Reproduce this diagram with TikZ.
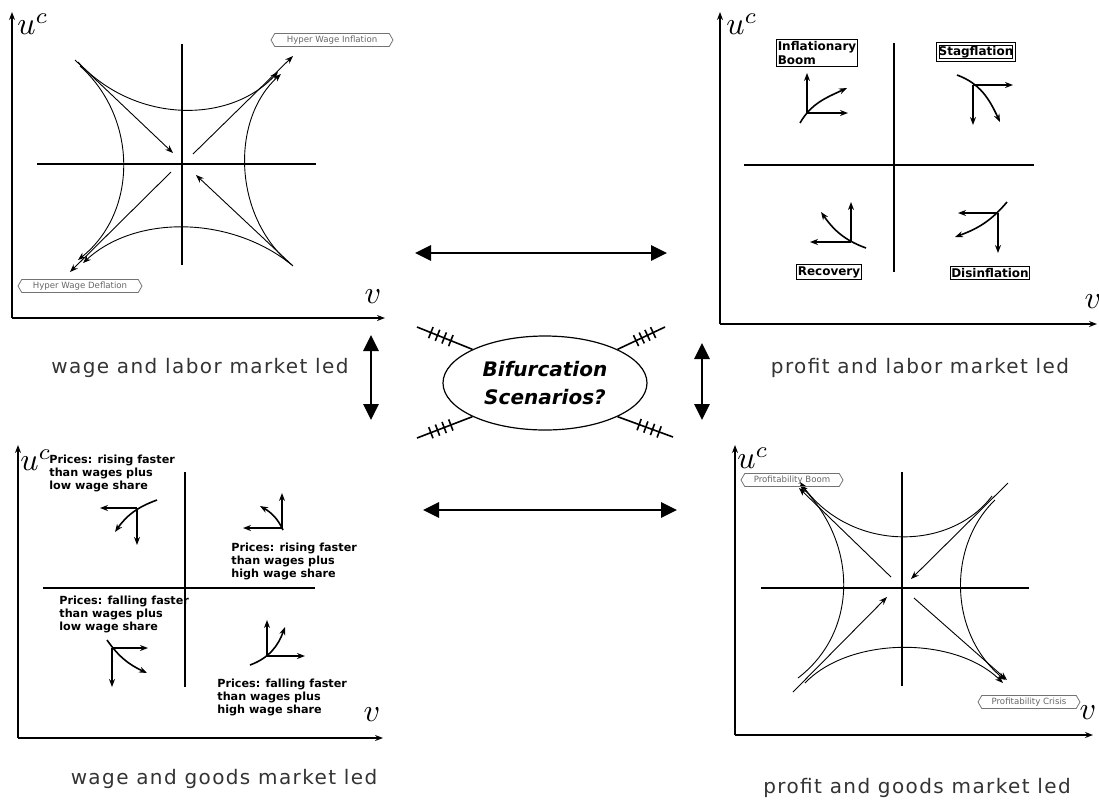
\documentclass[tikz,border=0pt]{standalone}
\usepackage{fontspec}
\newfontfamily\vsans{DejaVu Sans}
\newfontfamily\widesans[LetterSpace=7]{DejaVu Sans}
\usetikzlibrary{arrows.meta,shapes.geometric,shapes.symbols,calc}

\begin{document}
\begin{tikzpicture}[x=0.5pt,y=-0.5pt,
    >={Stealth[length=4pt,width=3pt]},
    axis/.style={line width=0.9pt,->},
    cross/.style={line width=0.7pt},
    flow/.style={line width=0.45pt},
    glyph/.style={line width=0.8pt,->},
    bigarrow/.style={line width=1.4pt,{Triangle[length=8pt,width=7.5pt]}-{Triangle[length=8pt,width=7.5pt]}},
    axlabel/.style={scale=1.6,inner sep=0pt},
    hexlabel/.style={signal,signal to=west and east,signal pointer angle=120,draw=black!55,text=black!60,
        font=\vsans\fontsize{4.3}{5}\selectfont,inner sep=0.5pt,minimum height=6.5pt},
    qbox/.style={draw,line width=0.5pt,inner xsep=0.5pt,inner ysep=1pt,align=left,
        font=\vsans\bfseries\fontsize{6}{7}\selectfont},
    pricetext/.style={anchor=north west,inner sep=0pt,align=left,
        font=\vsans\bfseries\fontsize{5.6}{6.3}\selectfont},
    panellabel/.style={text=black!80,font=\widesans\fontsize{10}{12}\selectfont},
    hatch/.style={line width=0.8pt}]

    \useasboundingbox (0,0) rectangle (1099,805);

    % 左上: wage and labor market led
    \draw[axis] (12,318) -- (12,12);
    \draw[axis] (12,318) -- (385,318);
    \node[axlabel] (uc1) at (33,24) {$u^c$};
    \node[axlabel] (v1) at (373,297) {$v$};
    \draw[cross] (37,164) -- (316,164);
    \draw[cross] (182,44) -- (182,265);
    \draw[flow,->] (78,62) .. controls (135,124) and (230,124) .. (278,72);
    \draw[flow,->] (80,66) .. controls (138,118) and (138,212) .. (78,260);
    \draw[flow,->] (288,262) .. controls (232,212) and (232,118) .. (281,74);
    \draw[flow,->] (292,265) .. controls (230,215) and (135,215) .. (83,263);
    \draw[flow,->] (75,60) -- (173,153);
    \draw[flow,->] (193,154) -- (293,56);
    \draw[flow,->] (293,266) -- (196,175);
    \draw[flow,->] (171,172) -- (70,272);
    \node[hexlabel,minimum width=61pt] (hwi) at (332,40) {Hyper Wage Inflation};
    \node[hexlabel,minimum width=62pt] (hwd) at (80,286) {Hyper Wage Deflation};
    \node[panellabel] (cap1) at (200,368) {wage and labor market led};

    % 右上: profit and labor market led
    \draw[axis] (720,324) -- (720,12);
    \draw[axis] (720,324) -- (1097,324);
    \node[axlabel] (uc2) at (742,24) {$u^c$};
    \node[axlabel] (v2) at (1093,302) {$v$};
    \draw[cross] (744,165) -- (1034,165);
    \draw[cross] (894,43) -- (894,272);
    \node[qbox] (boom) at (817,53) {Inflationary\\Boom};
    \node[qbox,double,double distance=1pt] (stag) at (976,52) {Stagflation};
    \node[qbox] (recov) at (829,272) {Recovery};
    \node[qbox] (disinf) at (990,273) {Disinflation};
    % 象限箭头
    \draw[glyph] (807,113) -- (807,73);
    \draw[glyph] (807,113) -- (848,113);
    \draw[glyph] (800,123) to[out=60,in=205] (847,88);
    \draw[glyph] (973,85) -- (1013,85);
    \draw[glyph] (973,85) -- (973,125);
    \draw[glyph] (957,75) to[out=-20,in=115] (1000,122);
    \draw[glyph] (851,242) -- (851,202);
    \draw[glyph] (851,242) -- (810,242);
    \draw[glyph] (866,248) to[out=160,in=-55] (821,212);
    \draw[glyph] (998,213) -- (998,253);
    \draw[glyph] (998,213) -- (958,213);
    \draw[glyph] (1007,202) to[out=230,in=20] (955,237);
    \node[panellabel] (cap2) at (920,368) {profit and labor market led};

    % 左下: wage and goods market led
    \draw[axis] (18,738) -- (18,445);
    \draw[axis] (18,738) -- (383,738);
    \node[axlabel] (uc3) at (36,460) {$u^c$};
    \node[axlabel] (v3) at (372,715) {$v$};
    \draw[cross] (43,588) -- (315,588);
    \draw[cross] (185,472) -- (185,687);
    \node[pricetext] (p1) at (49,455) {Prices: rising faster\\than wages plus\\low wage share};
    \node[pricetext] (p2) at (231,543) {Prices: rising faster\\than wages plus\\high wage share};
    \node[pricetext] (p3) at (59,596) {Prices: falling faster\\than wages plus\\low wage share};
    \node[pricetext] (p4) at (217,679) {Prices: falling faster\\than wages plus\\high wage share};
    \draw[glyph] (137,508) -- (100,508);
    \draw[glyph] (137,508) -- (137,545);
    \draw[glyph] (157,500) to[out=200,in=55] (115,532);
    \draw[glyph] (282,528) -- (282,493);
    \draw[glyph] (282,528) -- (243,528);
    \draw[glyph] (283,530) to[out=115,in=-30] (260,506);
    \draw[glyph] (112,648) -- (148,648);
    \draw[glyph] (112,648) -- (112,687);
    \draw[glyph] (107,640) to[out=-55,in=155] (147,673);
    \draw[glyph] (267,656) -- (267,620);
    \draw[glyph] (267,656) -- (305,656);
    \draw[glyph] (250,665) to[out=20,in=-110] (285,627);
    \node[panellabel] (cap3) at (224,779) {wage and goods market led};

    % 右下: profit and goods market led
    \draw[axis] (735,735) -- (735,445);
    \draw[axis] (735,735) -- (1093,735);
    \node[axlabel] (uc4) at (753,458) {$u^c$};
    \node[axlabel] (v4) at (1088,713) {$v$};
    \draw[cross] (761,588) -- (1029,588);
    \draw[cross] (902,472) -- (902,686);
    \draw[flow,->] (992,496) .. controls (950,552) and (850,552) .. (800,482);
    \draw[flow,->] (995,500) .. controls (948,545) and (948,632) .. (1005,680);
    \draw[flow,->] (798,678) .. controls (858,632) and (858,545) .. (800,485);
    \draw[flow,->] (805,683) .. controls (850,636) and (955,636) .. (1003,683);
    \draw[flow,->] (1008,483) -- (911,579);
    \draw[flow,->] (793,692) -- (887,597);
    \draw[flow,->] (891,577) -- (799,488);
    \draw[flow,->] (914,598) -- (1007,680);
    \node[hexlabel,minimum width=51pt] (pboom) at (792,480) {Profitability Boom};
    \node[hexlabel,minimum width=51pt] (pcris) at (1029,702) {Profitability Crisis};
    \node[panellabel] (cap4) at (917,788) {profit and goods market led};

    % 中间: 分岔
    \node[ellipse,draw,line width=0.6pt,minimum width=102pt,minimum height=47pt,align=center,
        font=\vsans\bfseries\itshape\fontsize{10}{14}\selectfont] (bif) at (545,383) {Bifurcation\\Scenarios?};
    \coordinate (hnw) at (417,327);
    \coordinate (hne) at (665,327);
    \coordinate (hsw) at (417,438);
    \coordinate (hse) at (673,437);
    \foreach \a/\o in {north west/hnw,north east/hne,south west/hsw,south east/hse} {
        \draw[hatch] (bif.\a) -- (\o);
        \foreach \t in {0.25,0.37,0.49,0.61}
            \draw[hatch] ($(\o)!\t!(bif.\a)!3pt!90:(bif.\a)$) -- ($(\o)!\t!(bif.\a)!3pt!-90:(bif.\a)$);
    }
    \coordinate (atl) at (415,253);
    \coordinate (atr) at (667,253);
    \coordinate (abl) at (423,510);
    \coordinate (abr) at (677,510);
    \coordinate (alt) at (371,335);
    \coordinate (alb) at (371,420);
    \coordinate (art) at (702,343);
    \coordinate (arb) at (702,420);
    \draw[bigarrow] (atl) -- (atr);
    \draw[bigarrow] (abl) -- (abr);
    \draw[bigarrow] (alt) -- (alb);
    \draw[bigarrow] (art) -- (arb);
\end{tikzpicture}
\end{document}
